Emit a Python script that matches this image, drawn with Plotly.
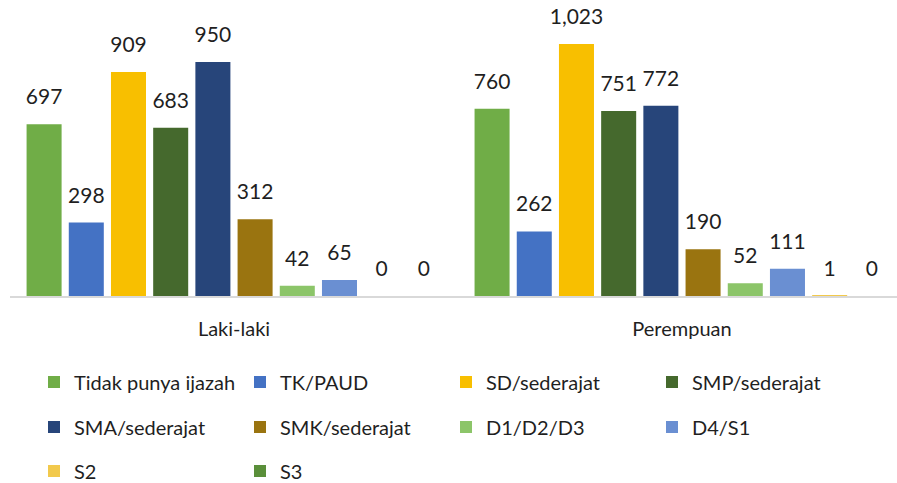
import plotly.graph_objects as go

categories = ["Laki-laki", "Perempuan"]
series_names = ["Tidak punya ijazah", "TK/PAUD", "SD/sederajat", "SMP/sederajat",
                "SMA/sederajat", "SMK/sederajat", "D1/D2/D3", "D4/S1", "S2", "S3"]
laki_values = [697, 298, 909, 683, 950, 312, 42, 65, 0, 0]
perempuan_values = [760, 262, 1023, 751, 772, 190, 52, 111, 1, 0]
colors = ["#70AD47", "#4472C4", "#F8BF00", "#45692D", "#27457A", "#9A7410",
          "#8CC569", "#6A8FD2", "#F2C94C", "#5A8F3A"]
legend_rows = ["legend", "legend", "legend", "legend",
               "legend2", "legend2", "legend2", "legend2",
               "legend3", "legend3"]

FONT = "Lato"
fig = go.Figure()
for i, name in enumerate(series_names):
    vals = [laki_values[i], perempuan_values[i]]
    fig.add_trace(go.Bar(
        x=categories, y=vals, name=name, marker_color=colors[i],
        marker_line_width=0, offsetgroup=str(i), legend=legend_rows[i],
        hoverinfo="skip"))
for i, name in enumerate(series_names):
    vals = [laki_values[i], perempuan_values[i]]
    fig.add_trace(go.Scatter(
        x=categories, y=vals, mode="markers+text", offsetgroup=str(i),
        text=[f"{v:,}" for v in vals], textposition="top center",
        textfont=dict(family=FONT, size=21, color="#1f1f1f"),
        marker=dict(size=22, color="rgba(0,0,0,0)"), showlegend=False,
        hoverinfo="skip", cliponaxis=False))

leg_common = dict(orientation="h", xref="container", yref="container",
                  x=34 / 897, xanchor="left", yanchor="middle",
                  font=dict(family=FONT, size=20, color="#1f1f1f"),
                  entrywidth=161, entrywidthmode="pixels",
                  bgcolor="rgba(0,0,0,0)", borderwidth=0, traceorder="normal")

fig.update_layout(
    width=897, height=483,
    margin=dict(l=10, r=0, t=10, b=187),
    paper_bgcolor="white", plot_bgcolor="white",
    barmode="group", bargap=0.058, bargroupgap=0.17,
    scattermode="group", scattergap=0.058,
    legend=dict(**leg_common, y=1 - 382 / 483),
    legend2=dict(**leg_common, y=1 - 427 / 483),
    legend3=dict(**leg_common, y=1 - 471 / 483),
    xaxis=dict(range=[-0.5, 1.48], showline=True, linecolor="#D9D9D9", linewidth=1.5,
               showgrid=False, ticks="", ticklabelstandoff=14,
               tickfont=dict(family=FONT, size=20, color="#1f1f1f")),
    yaxis=dict(range=[0, 1161], visible=False, showgrid=False, zeroline=False),
)

fig.write_html("out.html", config={"displayModeBar": False},
               post_script="document.body.style.margin='0px';")
